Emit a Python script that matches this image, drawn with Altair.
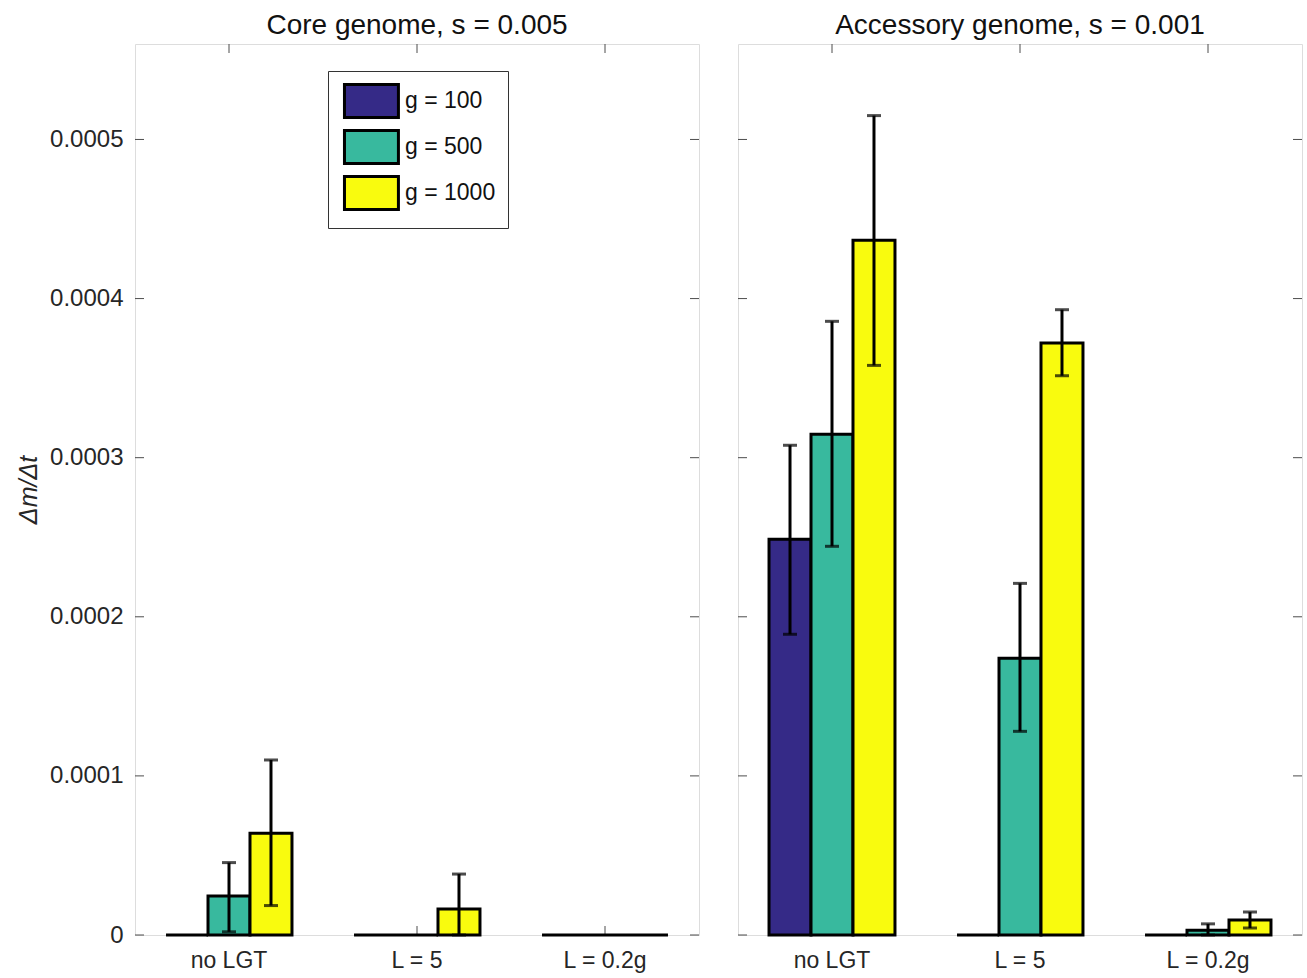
import altair as alt
import pandas as pd

groups = ["no LGT", "L = 5", "L = 0.2g"]
sizes = ["g = 100", "g = 500", "g = 1000"]
colors = ["#352a87", "#38b99e", "#f9fb0e"]

# values per group (rows) and genome size (columns)
core_mean = [[0.0, 0.0000245, 0.0000640],
             [0.0, 0.0, 0.0000163],
             [0.0, 0.0, 0.0]]
core_lo = [[None, 0.0000020, 0.0000185],
           [None, None, 0.0],
           [None, None, None]]
core_hi = [[None, 0.0000455, 0.0001100],
           [None, None, 0.0000383],
           [None, None, None]]

acc_mean = [[0.0002487, 0.0003147, 0.0004366],
            [0.0, 0.0001740, 0.0003720],
            [0.0, 0.0000030, 0.0000094]]
acc_lo = [[0.0001890, 0.0002443, 0.0003580],
          [None, 0.0001280, 0.0003515],
          [None, 0.0, 0.0000044]]
acc_hi = [[0.0003078, 0.0003857, 0.0005150],
          [None, 0.0002210, 0.0003930],
          [None, 0.0000070, 0.0000144]]

y_ticks = [0.0, 0.0001, 0.0002, 0.0003, 0.0004, 0.0005]

W, H = 564, 891
YMAX = 0.00056
FONT = "Liberation Sans"
BOX = "#4d4d4d"
TXT = "#262626"


def table(mean, lo, hi):
    rows = []
    for i, grp in enumerate(groups):
        for j, s in enumerate(sizes):
            rows.append({"group": grp, "size": s, "value": mean[i][j],
                         "lo": lo[i][j], "hi": hi[i][j]})
    return pd.DataFrame(rows)


def panel(df, title, show_labels, show_legend):
    x = alt.X("group:N", sort=groups,
              scale=alt.Scale(paddingInner=0.33, paddingOuter=0.165),
              axis=alt.Axis(title=None, ticks=False, domain=False,
                            labelFontSize=23, labelFont=FONT, labelColor=TXT,
                            labelPadding=14, labelAngle=0, labelAlign="center",
                            labelBaseline="top"))
    xo = alt.XOffset("size:N", sort=sizes, scale=alt.Scale(paddingInner=0, paddingOuter=0))
    yscale = alt.Scale(domain=[0, YMAX], nice=False, zero=True)
    if show_labels:
        yaxis = alt.Axis(values=y_ticks, ticks=False, domain=False, grid=False,
                         labelFontSize=24, labelFont=FONT, labelColor=TXT,
                         labelPadding=12,
                         labelExpr="datum.value == 0 ? '0' : format(datum.value, '.4f')",
                         title="Δm/Δt", titleFontSize=25, titleFont=FONT,
                         titleFontWeight="normal", titleFontStyle="italic",
                         titleColor=TXT, titlePadding=8)
    else:
        yaxis = alt.Axis(values=y_ticks, ticks=False, domain=False, grid=False,
                         labels=False, title=None)
    legend = None
    if show_legend:
        legend = alt.Legend(title=None, orient="none", legendX=193, legendY=27,
                            direction="vertical",
                            symbolType="M-0.82,-1L2.45,-1L2.45,1L-0.82,1Z",
                            symbolSize=1089, symbolStrokeColor="black",
                            symbolStrokeWidth=3, symbolOpacity=1,
                            labelFontSize=23, labelFont=FONT, labelColor="#111",
                            labelOffset=29, rowPadding=0,
                            padding=12, strokeColor="#333", fillColor="white",
                            labelLimit=250)
    base = alt.Chart(df)
    bars = base.mark_bar(stroke="black", strokeWidth=3, opacity=1).encode(
        x=x, xOffset=xo,
        y=alt.Y("value:Q", scale=yscale, axis=yaxis),
        fill=alt.Fill("size:N", sort=sizes,
                      scale=alt.Scale(domain=sizes, range=colors), legend=legend),
    )
    err_df = base.transform_filter("isValid(datum.lo)")
    err = err_df.mark_rule(color="black", strokeWidth=3).encode(
        x=alt.X("group:N", sort=groups), xOffset=alt.XOffset("size:N", sort=sizes),
        y="lo:Q", y2="hi:Q")
    cap_lo = err_df.mark_tick(color="black", thickness=3, size=14, orient="horizontal").encode(
        x=alt.X("group:N", sort=groups), xOffset=alt.XOffset("size:N", sort=sizes),
        y="lo:Q")
    cap_hi = err_df.mark_tick(color="black", thickness=3, size=14, orient="horizontal").encode(
        x=alt.X("group:N", sort=groups), xOffset=alt.XOffset("size:N", sort=sizes),
        y="hi:Q")
    # inside ticks (MATLAB style)
    tdf = pd.DataFrame({"t": y_ticks})
    yt_l = alt.Chart(tdf).mark_rule(color=BOX, strokeWidth=1).encode(
        y="t:Q", x=alt.value(0), x2=alt.value(9))
    yt_r = alt.Chart(tdf).mark_rule(color=BOX, strokeWidth=1).encode(
        y="t:Q", x=alt.value(W - 9), x2=alt.value(W))
    # group-centre ticks: the middle bar of each group sits on the group centre
    mid = base.transform_filter(alt.datum.size == sizes[1])
    xt_b = mid.mark_rule(color=BOX, strokeWidth=1).encode(
        x=alt.X("group:N", sort=groups), xOffset=alt.XOffset("size:N", sort=sizes),
        y=alt.value(H - 9), y2=alt.value(H))
    xt_t = mid.mark_rule(color=BOX, strokeWidth=1).encode(
        x=alt.X("group:N", sort=groups), xOffset=alt.XOffset("size:N", sort=sizes),
        y=alt.value(0), y2=alt.value(9))
    return alt.layer(yt_l, yt_r, xt_b, xt_t, bars, err, cap_lo, cap_hi).properties(
        width=W, height=H,
        title=alt.TitleParams(title, fontSize=28, font=FONT, fontWeight="normal",
                              color="#111", offset=4))


left = panel(table(core_mean, core_lo, core_hi), "Core genome, s = 0.005", True, True)
right = panel(table(acc_mean, acc_lo, acc_hi), "Accessory genome, s = 0.001", False, False)

chart = alt.hconcat(left, right, spacing=37).configure_view(
    stroke=BOX, strokeWidth=1.5).configure(padding={"left": 16, "top": 11, "right": 3, "bottom": 0},
                                           background="white")

chart.save("out.html", embed_options={"renderer": "svg", "actions": False})
